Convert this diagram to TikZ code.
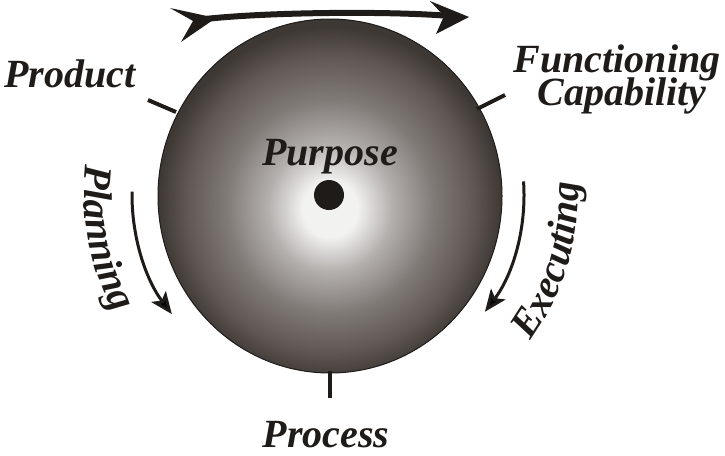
\documentclass[tikz,border=0pt]{standalone}
\usepackage{fontspec}
\setmainfont{Liberation Serif}[BoldFont={* Bold}, ItalicFont={* Italic}, BoldItalicFont={* Bold Italic}]
\usetikzlibrary{arrows.meta,decorations.text,shapes.geometric}
\definecolor{ink}{HTML}{1E1B19}
\definecolor{sA}{HTML}{F2F2F1}
\definecolor{sB}{HTML}{B4B0AE}
\definecolor{sC}{HTML}{817B78}
\definecolor{sD}{HTML}{5E5754}
\definecolor{sE}{HTML}{3E3835}
\pgfdeclareradialshading{spherefill}{\pgfpoint{0bp}{-2bp}}{color(0bp)=(sA); color(4bp)=(sA); color(9bp)=(sB); color(15bp)=(sC); color(21bp)=(sD); color(25bp)=(sE); color(50bp)=(sE)}
\newcommand{\lblfont}{\fontsize{40}{40}\selectfont\bfseries\itshape}
\begin{document}
\begin{tikzpicture}[x=1pt,y=-1pt,
  lbl/.style={font=\lblfont, text=ink, inner sep=0pt, anchor=base},
  tickline/.style={draw=ink, line width=4pt},
  cyclearrow/.style={draw=ink, line width=3pt, -{Stealth[length=22pt,width=18pt,inset=5pt]}}]
\useasboundingbox (0,0) rectangle (725,455);
% sphere
\node (sphere) [ellipse, minimum width=344pt, minimum height=354pt, inner sep=0pt,
  shading=spherefill, draw=ink, line width=1pt] at (330,196) {};
\coordinate (c) at (330,195);
\node (dot) [circle, fill=ink, minimum size=30pt, inner sep=0pt] at (329,195) {};
\node (purpose) [lbl] at (330,165) {Purpose};
% labels
\node (product) [lbl] at (70,87) {Product};
\node (func) [lbl] at (617,72) {Functioning};
\node (capa) [lbl] at (622,105) {Capability};
\node (process) [lbl] at (326,447) {Process};
% ticks
\coordinate (tp1) at (148,100); \coordinate (tp2) at (176,112);
\coordinate (tf1) at (505,95);  \coordinate (tf2) at (477,109);
\coordinate (tr1) at (330,371); \coordinate (tr2) at (330,398);
\draw[tickline] (tp1) -- (tp2);
\draw[tickline] (tf1) -- (tf2);
\draw[tickline] (tr1) -- (tr2);
% curved labels
\path[decorate, decoration={text along path, text color=ink, text align=left,
  text={|\lblfont|Planning}}]
  (c) ++(187:246) arc[start angle=187, end angle=140, radius=246];
\path[decorate, decoration={text along path, text color=ink, text align=left,
  text={|\lblfont|Executing}}]
  (c) ++(36:248) arc[start angle=36, end angle=-15, radius=248];
% cycle arrows
\draw[cyclearrow] (c) ++(181:198) arc[start angle=181, end angle=143, radius=198];
\draw[cyclearrow] (c) ++(-4:194) arc[start angle=-4, end angle=37, radius=194];
% top arrow
\coordinate (ta) at (205,19);
\coordinate (tb) at (450,16);
\draw[ink, line width=6pt] (ta) .. controls (270,12) and (390,11) .. (tb);
\fill[ink] (469,17) -- (430,1) -- (444,16) -- (436,34) -- cycle;
\fill[ink] (170,8) -- (216,18) -- (181,42) -- (193,21) -- cycle;
\end{tikzpicture}
\end{document}
